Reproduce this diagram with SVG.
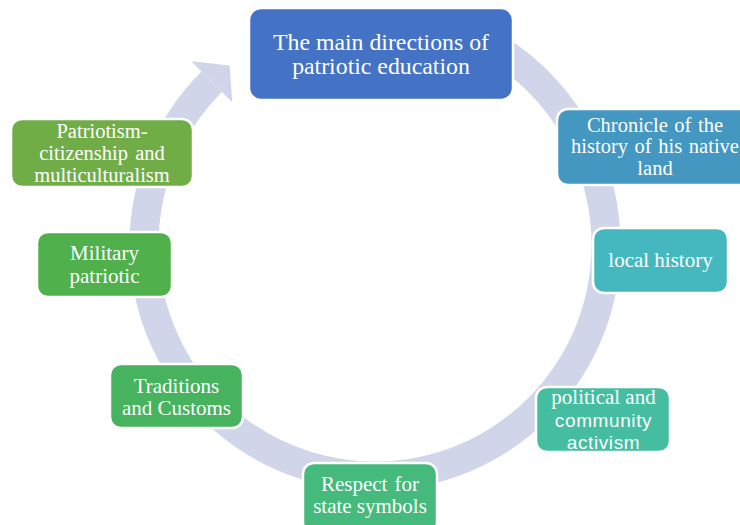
<svg xmlns="http://www.w3.org/2000/svg" width="740" height="525" viewBox="0 0 740 525">
  <style>
    .box { stroke: #ffffff; stroke-width: 2.5; }
    .t { font-family: "Liberation Serif", "Times New Roman", serif; fill: #ffffff; text-anchor: middle; font-size: 21px; }
    .s { font-family: "Liberation Sans", Arial, sans-serif; fill: #ffffff; text-anchor: middle; font-size: 19px; letter-spacing: 0.6px; }
  </style>
  <rect width="740" height="525" fill="#ffffff"/>
  <g id="connectors">
    <path d="M 490.5 44.95 A 231 231 0 1 1 211.7 81.7" fill="none" stroke="#D0D5EA" stroke-width="29"/>
    <polygon points="191.2,61.2 229.6,65.5 232.2,102.2" fill="#D0D5EA"/>
  </g>
  <g id="main">
    <rect class="box" x="249" y="8" width="264" height="92" rx="12" fill="#4472C4"/>
    <text class="t" x="381" y="50" style="font-size:23.8px">The main directions of</text>
    <text class="t" x="381" y="74" style="font-size:23.8px">patriotic education</text>
  </g>
  <g id="chronicle">
    <rect class="box" x="557" y="109" width="198" height="76" rx="11" fill="#4397C1"/>
    <text class="t" x="655" y="132" style="font-size:20.5px" word-spacing="1.5">Chronicle of the</text>
    <text class="t" x="655" y="153" style="font-size:20.5px" word-spacing="1.5">history of his native</text>
    <text class="t" x="655" y="175" style="font-size:20.5px">land</text>
  </g>
  <g id="local">
    <rect class="box" x="593" y="228" width="135" height="65" rx="11" fill="#45B8BF"/>
    <text class="t" x="660.5" y="267">local history</text>
  </g>
  <g id="political">
    <rect class="box" x="536" y="387" width="134" height="65" rx="11" fill="#44BDA0"/>
    <text class="t" x="603.5" y="404">political and</text>
    <text class="s" x="603.5" y="427">community</text>
    <text class="s" x="603.5" y="449">activism</text>
  </g>
  <g id="respect">
    <rect class="box" x="303" y="463" width="134" height="70" rx="11" fill="#45BA7C"/>
    <text class="t" x="370" y="491" word-spacing="2">Respect for</text>
    <text class="t" x="370" y="513">state symbols</text>
  </g>
  <g id="traditions">
    <rect class="box" x="110" y="364" width="133" height="64" rx="11" fill="#47B35E"/>
    <text class="t" x="176.5" y="393">Traditions</text>
    <text class="t" x="176.5" y="415">and Customs</text>
  </g>
  <g id="military">
    <rect class="box" x="37" y="232" width="135" height="65" rx="11" fill="#50B04B"/>
    <text class="t" x="104.5" y="260">Military</text>
    <text class="t" x="104.5" y="283">patriotic</text>
  </g>
  <g id="patriotism">
    <rect class="box" x="11" y="119" width="182" height="68" rx="11" fill="#71AD47"/>
    <text class="t" x="102" y="138" style="font-size:20.5px">Patriotism-</text>
    <text class="t" x="102" y="160" style="font-size:20.5px" word-spacing="2">citizenship and</text>
    <text class="t" x="102" y="182" style="font-size:20.5px">multiculturalism</text>
  </g>
</svg>
